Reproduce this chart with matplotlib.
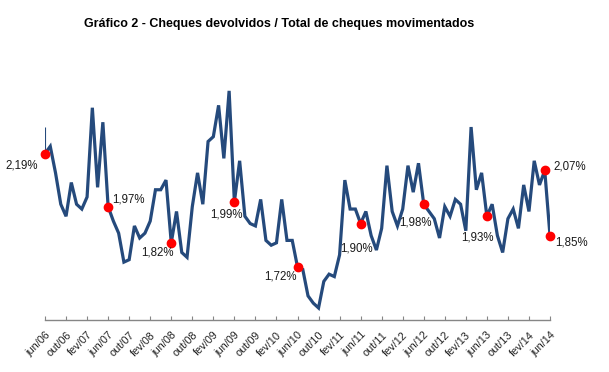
import matplotlib
matplotlib.use("Agg")
import matplotlib.pyplot as plt
import numpy as np

# Monthly ratio (%) jun/2006 .. jun/2014
values = [2.19, 2.22, 2.11, 1.98, 1.93, 2.07, 1.98, 1.96, 2.01, 2.38, 2.05, 2.32,
          1.97, 1.91, 1.86, 1.74, 1.75, 1.89, 1.84, 1.86, 1.91, 2.04, 2.04, 2.08,
          1.82, 1.95, 1.78, 1.76, 1.97, 2.11, 1.98, 2.24, 2.26, 2.39, 2.17, 2.45,
          1.99, 2.16, 1.93, 1.90, 1.89, 2.00, 1.83, 1.81, 1.82, 2.00, 1.83, 1.83,
          1.72, 1.71, 1.60, 1.57, 1.55, 1.66, 1.69, 1.68, 1.77, 2.08, 1.96, 1.96,
          1.90, 1.95, 1.85, 1.79, 1.88, 2.14, 1.95, 1.89, 1.96, 2.14, 2.03, 2.15,
          1.98, 1.95, 1.92, 1.84, 1.97, 1.93, 2.00, 1.98, 1.87, 2.30, 2.04, 2.11,
          1.93, 1.98, 1.85, 1.78, 1.92, 1.96, 1.88, 2.06, 1.95, 2.16, 2.06, 2.12,
          1.85]

tick_labels = ["jun/06", "out/06", "fev/07", "jun/07", "out/07", "fev/08", "jun/08",
               "out/08", "fev/09", "jun/09", "out/09", "fev/10", "jun/10", "out/10",
               "fev/11", "jun/11", "out/11", "fev/12", "jun/12", "out/12", "fev/13",
               "jun/13", "out/13", "fev/14", "jun/14"]

highlight_idx = [0, 12, 24, 36, 48, 60, 72, 84, 95, 96]
highlight_labels = ["2,19%", "1,97%", "1,82%", "1,99%", "1,72%", "1,90%",
                    "1,98%", "1,93%", "2,07%", "1,85%"]
start_spike = 2.30  # thin stroke above the first point

title = "Gráfico 2 - Cheques devolvidos / Total de cheques movimentados"

fig = plt.figure(figsize=(6.09, 3.72), dpi=100)
ax = fig.add_axes([45/609, 1 - 320/372, 505/609, (320 - 78.8)/372])

x = np.arange(len(values))
line_color = "#254A7C"
ax.plot(x, values, color=line_color, lw=2.3, solid_joinstyle="miter", zorder=2)
ax.vlines(x[0], values[0], start_spike, color=line_color, lw=0.8, zorder=2)

hx = [x[i] for i in highlight_idx]
hy = [values[i] for i in highlight_idx]
ax.plot(hx, hy, "o", color="#FF0000", ms=6, zorder=3, clip_on=False)

offsets = [(-23, -12), (20, 7), (-14, -10), (-8, -13), (-17, -10), (-4, -25),
           (-8, -18), (-9, -21), (25, 4), (21, -7)]
for xi, yi, lab, off in zip(hx, hy, highlight_labels, offsets):
    ax.annotate(lab, (xi, yi), xytext=off, textcoords="offset pixels",
                ha="center", va="center", fontsize=8.3, family="Liberation Sans",
                color="#1a1a1a")

ax.set_xlim(0, len(values) - 1)
ax.set_ylim(1.5, 2.5)
ax.set_xticks(np.arange(0, len(values), 4))
ax.set_xticklabels(tick_labels, rotation=45, ha="right", rotation_mode="anchor",
                   fontsize=7.8, family="Liberation Sans", color="#222222")
ax.tick_params(axis="x", direction="in", length=3, color="#868686", pad=7)
ax.set_yticks([])
for s in ["top", "right", "left"]:
    ax.spines[s].set_visible(False)
ax.spines["bottom"].set_color("#868686")
ax.spines["bottom"].set_linewidth(1.0)

fig.text(279/609, 1 - 24/372, title, ha="center", va="center",
         fontsize=9, fontweight="bold", family="Liberation Sans")

fig.savefig("out.png", dpi=100)
